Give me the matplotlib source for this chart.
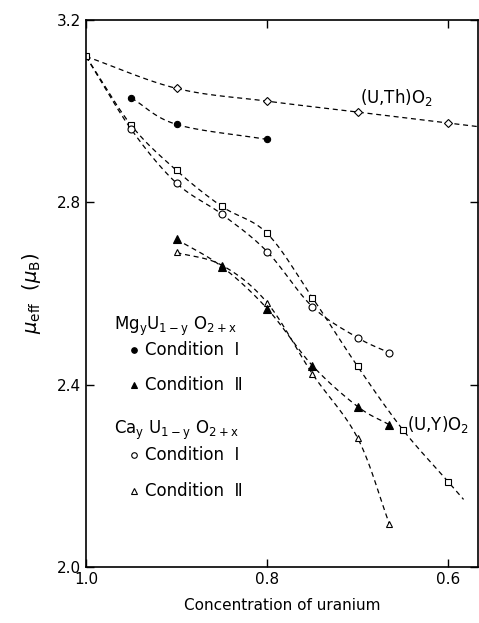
import numpy as np
import matplotlib
matplotlib.use("Agg")
import matplotlib.pyplot as plt

plt.rcParams['font.family'] = ['DejaVu Sans']

# ---- data ----
th_x = [1.0, 0.9, 0.8, 0.7, 0.6]
th_y = [3.12, 3.05, 3.022, 2.998, 2.974]

uy_x = [1.0, 0.95, 0.9, 0.85, 0.8, 0.75, 0.7, 0.65, 0.6]
uy_y = [3.12, 2.969, 2.870, 2.791, 2.732, 2.591, 2.440, 2.301, 2.187]

mg1_x = [0.95, 0.9, 0.8]
mg1_y = [3.029, 2.971, 2.938]

mg2_x = [0.9, 0.85, 0.8, 0.75, 0.7, 0.665]
mg2_y = [2.719, 2.659, 2.567, 2.442, 2.352, 2.312]

ca1_x = [1.0, 0.95, 0.9, 0.85, 0.8, 0.75, 0.7, 0.665]
ca1_y = [3.12, 2.960, 2.842, 2.774, 2.692, 2.571, 2.503, 2.470]

ca2_x = [0.9, 0.85, 0.8, 0.75, 0.7, 0.665]
ca2_y = [2.690, 2.662, 2.580, 2.424, 2.283, 2.095]

xticks = [1.0, 0.8, 0.6]
xticklabels = ["1.0", "0.8", "0.6"]
yticks = [2.0, 2.4, 2.8, 3.2]
yticklabels = ["2.0", "2.4", "2.8", "3.2"]


def smooth(x, y, n=20, extend_to=None):
    x = np.asarray(x, float)
    y = np.asarray(y, float)
    P = np.column_stack([x, y])
    if len(P) < 3:
        return x, y
    Pe = np.vstack([2 * P[0] - P[1], P, 2 * P[-1] - P[-2]])
    out = []
    for i in range(1, len(Pe) - 2):
        p0, p1, p2, p3 = Pe[i - 1], Pe[i], Pe[i + 1], Pe[i + 2]
        t = np.linspace(0, 1, n, endpoint=False)[:, None]
        c = 0.5 * ((2 * p1) + (-p0 + p2) * t + (2 * p0 - 5 * p1 + 4 * p2 - p3) * t ** 2
                   + (-p0 + 3 * p1 - 3 * p2 + p3) * t ** 3)
        out.append(c)
    out.append(P[-1][None, :])
    C = np.vstack(out)
    if extend_to is not None:
        d = P[-1] - P[-2]
        s = (extend_to - P[-1][0]) / d[0]
        C = np.vstack([C, P[-1] + s * d])
    return C[:, 0], C[:, 1]


fig = plt.figure(figsize=(4.79, 6.23), dpi=100)
ax = fig.add_axes([0.1795, 0.0899, 0.8185, 0.8780])

XMIN, XMAX = 1.0, 0.567
ax.set_xlim(XMIN, XMAX)
ax.set_ylim(2.0, 3.2)

dash = dict(color='black', lw=0.9, ls=(0, (4, 3)))

sx, sy = smooth(th_x, th_y, extend_to=XMAX)
ax.plot(sx, sy, **dash)
sx, sy = smooth(uy_x, uy_y, extend_to=0.583)
ax.plot(sx, sy, **dash)
for xs, ys in [(mg1_x, mg1_y), (mg2_x, mg2_y), (ca1_x, ca1_y), (ca2_x, ca2_y)]:
    sx, sy = smooth(xs, ys)
    ax.plot(sx, sy, **dash)

mk = dict(ls='none', color='black', mew=0.8)
ax.plot(th_x[1:], th_y[1:], marker='D', ms=4.5, mfc='white', **mk)
ax.plot(uy_x, uy_y, marker='s', ms=5, mfc='white', **mk)
ax.plot(ca1_x[1:], ca1_y[1:], marker='o', ms=5, mfc='white', **mk)
ax.plot(ca2_x, ca2_y, marker='^', ms=5, mfc='white', **mk)
ax.plot(mg1_x, mg1_y, marker='o', ms=4.5, mfc='black', **mk)
ax.plot(mg2_x, mg2_y, marker='^', ms=5.5, mfc='black', **mk)

# annotations
ax.text(0.697, 3.031, "(U,Th)O$_2$", fontsize=12, ha='left', va='center')
ax.text(0.646, 2.312, "(U,Y)O$_2$", fontsize=12, ha='left', va='center')

# legend as text
mx, tx = 0.122, 0.150
ax.text(0.072, 0.439, "Mg$_\\mathregular{y}$U$_\\mathregular{1-y}$ O$_\\mathregular{2+x}$",
        transform=ax.transAxes, fontsize=12, va='center')
ax.plot([mx], [0.397], transform=ax.transAxes, marker='o', ms=4, mfc='black', **mk)
ax.text(tx, 0.397, "Condition  \u2160", transform=ax.transAxes, fontsize=12, va='center')
ax.plot([mx], [0.333], transform=ax.transAxes, marker='^', ms=5, mfc='black', **mk)
ax.text(tx, 0.333, "Condition  \u2161", transform=ax.transAxes, fontsize=12, va='center')
ax.text(0.072, 0.250, "Ca$_\\mathregular{y}$ U$_\\mathregular{1-y}$ O$_\\mathregular{2+x}$",
        transform=ax.transAxes, fontsize=12, va='center')
ax.plot([mx], [0.205], transform=ax.transAxes, marker='o', ms=4, mfc='white', **mk)
ax.text(tx, 0.205, "Condition  \u2160", transform=ax.transAxes, fontsize=12, va='center')
ax.plot([mx], [0.139], transform=ax.transAxes, marker='^', ms=4.5, mfc='white', **mk)
ax.text(tx, 0.139, "Condition  \u2161", transform=ax.transAxes, fontsize=12, va='center')

ax.set_xticks(xticks)
ax.set_xticklabels(xticklabels)
ax.set_yticks(yticks)
ax.set_yticklabels(yticklabels)
ax.tick_params(direction='in', top=True, right=True, length=6, width=1, labelsize=11)
for s in ax.spines.values():
    s.set_linewidth(1.2)

ax.set_xlabel("Concentration of uranium", fontsize=11, labelpad=8)
ax.set_ylabel("$\\mu_{\\mathregular{eff}}$  ($\\mu_{\\mathregular{B}}$)", fontsize=14, labelpad=10)

fig.savefig("out.png", dpi=100)
